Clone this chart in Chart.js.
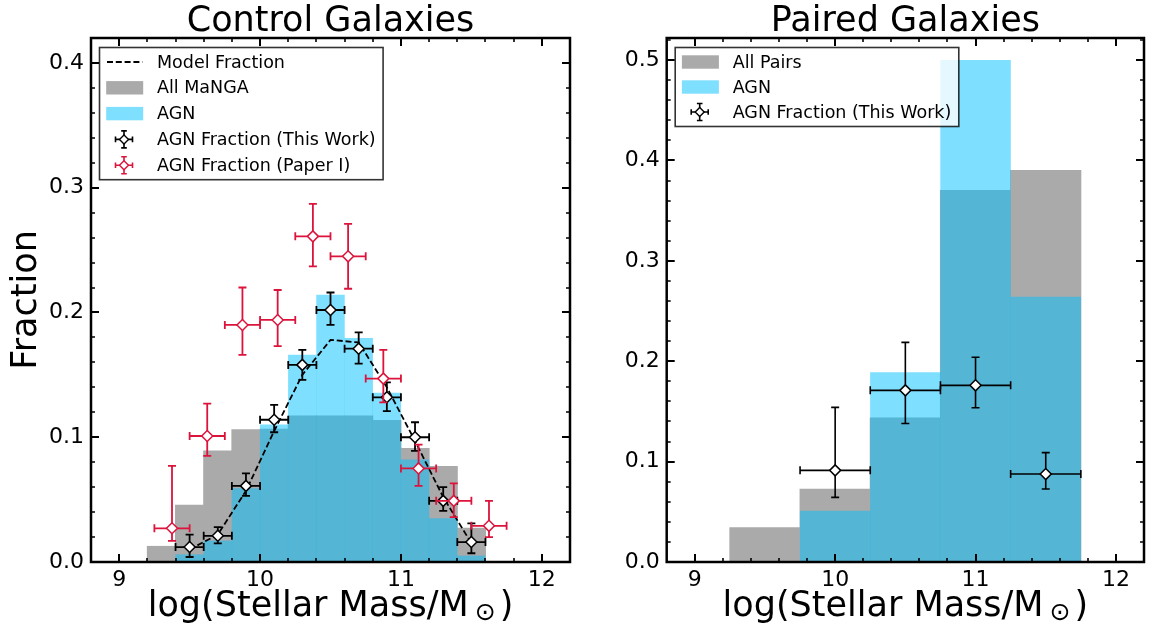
<!DOCTYPE html>
<html><head><meta charset="utf-8">
<script src="https://cdn.jsdelivr.net/npm/chart.js@4.4.0/dist/chart.umd.min.js"></script>
<style>
html,body{margin:0;padding:0;background:#fff;width:1151px;height:629px;overflow:hidden;}
.wrap{position:absolute;top:0;height:629px;}
#w1{left:0;width:580px;}
#w2{left:580px;width:571px;}
</style></head><body>
<div class="wrap" id="w1"><canvas id="c1"></canvas></div>
<div class="wrap" id="w2"><canvas id="c2"></canvas></div>
<script>
// ---------------- DATA ----------------
const controlBinCenters = [9.3, 9.5, 9.7, 9.9, 10.1, 10.3, 10.5, 10.7, 10.9, 11.1, 11.3, 11.5];
const controlAllManga   = [0.0125, 0.0455, 0.089, 0.106, 0.1065, 0.117, 0.117, 0.117, 0.1135, 0.091, 0.0765, 0.027];
const controlAgn        = [0, 0.006, 0.017, 0.059, 0.110, 0.166, 0.214, 0.1795, 0.1355, 0.082, 0.035, 0.005];

const modelMass     = [9.5, 9.7, 9.9, 10.1, 10.3, 10.5, 10.7, 10.9, 11.1, 11.3, 11.5];
const modelFraction = [0.010, 0.022, 0.057, 0.105, 0.150, 0.178, 0.176, 0.140, 0.097, 0.052, 0.015];

const thisWorkMass = [9.5, 9.7, 9.9, 10.1, 10.3, 10.5, 10.7, 10.9, 11.1, 11.3, 11.5];
const thisWorkFrac = [0.012, 0.021, 0.061, 0.114, 0.158, 0.202, 0.171, 0.132, 0.100, 0.049, 0.016];
const thisWorkLow  = [0.004, 0.015, 0.053, 0.104, 0.146, 0.190, 0.159, 0.121, 0.089, 0.041, 0.007];
const thisWorkHigh = [0.022, 0.028, 0.071, 0.126, 0.170, 0.216, 0.184, 0.144, 0.112, 0.060, 0.031];
const thisWorkXErr = [0.1, 0.1, 0.1, 0.1, 0.1, 0.1, 0.1, 0.1, 0.1, 0.1, 0.1];

const paperIMass = [9.375, 9.625, 9.875, 10.125, 10.375, 10.625, 10.875, 11.125, 11.375, 11.625];
const paperIFrac = [0.027, 0.101, 0.190, 0.194, 0.261, 0.245, 0.147, 0.075, 0.049, 0.029];
const paperILow  = [0.017, 0.085, 0.166, 0.173, 0.237, 0.219, 0.128, 0.061, 0.036, 0.020];
const paperIHigh = [0.077, 0.127, 0.220, 0.218, 0.287, 0.271, 0.170, 0.094, 0.063, 0.049];
const paperIXErr = [0.125, 0.125, 0.125, 0.125, 0.125, 0.125, 0.125, 0.125, 0.125, 0.125];

const pairedBinCenters = [9.5, 10.0, 10.5, 11.0, 11.5];
const pairedAll        = [0.034, 0.0725, 0.1435, 0.370, 0.390];
const pairedAgn        = [0, 0.051, 0.189, 0.500, 0.264];

const pairedMass = [10.0, 10.5, 11.0, 11.5];
const pairedFrac = [0.0913, 0.171, 0.176, 0.0876];
const pairedLow  = [0.0644, 0.138, 0.1537, 0.0727];
const pairedHigh = [0.154, 0.2188, 0.204, 0.109];
const pairedXErr = [0.25, 0.25, 0.25, 0.25];

const xTickValues = [9, 10, 11, 12];
const xTickLabels = ['9', '10', '11', '12'];
const controlYTicks  = [0, 0.1, 0.2, 0.3, 0.4];
const controlYLabels = ['0.0', '0.1', '0.2', '0.3', '0.4'];
const pairedYTicks   = [0, 0.1, 0.2, 0.3, 0.4, 0.5];
const pairedYLabels  = ['0.0', '0.1', '0.2', '0.3', '0.4', '0.5'];

const titles = ['Control Galaxies', 'Paired Galaxies'];
const xTitleMain = 'log(Stellar Mass/M';
const xTitleSub = '\u2299';
const xTitleEnd = ')';
const yTitle = 'Fraction';

// ---------------- STYLE / HELPERS ----------------
const F = "'DejaVu Sans', sans-serif";
const GRAY = '#aaaaaa';
const AGN_BLUE = 'rgba(0,191,255,0.5)';
const RED = '#dc143c';

const pts = (xs, ys) => xs.map((x, i) => ({x: x, y: ys[i]}));

function barDs(label, xs, ys, color, order, inflate) {
  return {type: 'bar', label, data: pts(xs, ys), backgroundColor: color, borderWidth: 0,
    inflateAmount: inflate,
    grouped: false, barPercentage: 1, categoryPercentage: 1, order, legendKind: 'patch'};
}
function errDs(label, xs, ys, lo, hi, xe, color, order, lw) {
  return {type: 'scatter', label, data: pts(xs, ys), errLow: lo, errHigh: hi, errX: xe,
    errLineWidth: lw, capHalf: 4, pointStyle: 'rectRot', pointRadius: 5.5, pointHoverRadius: 5.5,
    pointBorderWidth: 1.5, borderColor: color, pointBorderColor: color,
    backgroundColor: '#ffffff', pointBackgroundColor: '#ffffff', order, legendKind: 'err'};
}

function makeScales(yMax, yTicks, yLabels, yWidth) {
  return {
    x: {type: 'linear', min: 8.8, max: 12.2, offset: false,
      afterBuildTicks: s => { s.ticks = xTickValues.map(v => ({value: v})); },
      afterFit: s => { s.height = 67; },
      grid: {display: false, drawTicks: false, offset: false}, border: {display: false},
      ticks: {font: {family: F, size: 22}, color: '#000', padding: 5, maxRotation: 0, autoSkip: false,
        callback: v => { const i = xTickValues.indexOf(v); return i >= 0 ? xTickLabels[i] : ''; }}},
    y: {type: 'linear', min: 0, max: yMax,
      afterBuildTicks: s => { s.ticks = yTicks.map(v => ({value: v})); },
      afterFit: s => { s.width = yWidth; },
      grid: {display: false, drawTicks: false}, border: {display: false},
      ticks: {font: {family: F, size: 22}, color: '#000', padding: 7, autoSkip: false,
        callback: v => { const i = yTicks.indexOf(v); return i >= 0 ? yLabels[i] : ''; }}}
  };
}

const decorPlugin = {
  id: 'decor',
  beforeDatasetDraw(chart, args) {
    const ds = chart.data.datasets[args.index];
    if (!ds.errLow) return;
    const ctx = chart.ctx, xs = chart.scales.x, ys = chart.scales.y, cap = ds.capHalf;
    ctx.save();
    ctx.strokeStyle = ds.borderColor; ctx.lineWidth = ds.errLineWidth;
    ds.data.forEach((p, i) => {
      const px = xs.getPixelForValue(p.x), py = ys.getPixelForValue(p.y);
      const xl = xs.getPixelForValue(p.x - ds.errX[i]), xr = xs.getPixelForValue(p.x + ds.errX[i]);
      const yt = ys.getPixelForValue(ds.errHigh[i]), yb = ys.getPixelForValue(ds.errLow[i]);
      ctx.beginPath();
      ctx.moveTo(xl, py); ctx.lineTo(xr, py);
      ctx.moveTo(px, yt); ctx.lineTo(px, yb);
      ctx.moveTo(xl, py - cap); ctx.lineTo(xl, py + cap);
      ctx.moveTo(xr, py - cap); ctx.lineTo(xr, py + cap);
      ctx.moveTo(px - cap, yt); ctx.lineTo(px + cap, yt);
      ctx.moveTo(px - cap, yb); ctx.lineTo(px + cap, yb);
      ctx.stroke();
    });
    ctx.restore();
  },
  afterDatasetsDraw(chart) {
    const o = chart.options.plugins.decor;
    const ctx = chart.ctx, a = chart.chartArea, xs = chart.scales.x, ys = chart.scales.y;
    ctx.save();
    ctx.strokeStyle = '#000';
    // x ticks (bottom + top, inward)
    for (let k = Math.round(xs.min / 0.2) + 1; k * 0.2 < xs.max - 1e-6; k++) {
      const v = k * 0.2, major = Math.abs(v - Math.round(v)) < 1e-6;
      const p = Math.round(xs.getPixelForValue(v));
      const len = major ? 8 : 4;
      ctx.lineWidth = major ? 2 : 1.6;
      ctx.beginPath();
      ctx.moveTo(p, a.bottom); ctx.lineTo(p, a.bottom - len);
      ctx.moveTo(p, a.top); ctx.lineTo(p, a.top + len);
      ctx.stroke();
    }
    // y ticks (left + right, inward)
    for (let k = 1; k * 0.02 < ys.max - 1e-6; k++) {
      const v = k * 0.02, major = (k % 5) === 0;
      const p = Math.round(ys.getPixelForValue(v));
      const len = major ? 8 : 4;
      ctx.lineWidth = major ? 2 : 1.6;
      ctx.beginPath();
      ctx.moveTo(a.left, p); ctx.lineTo(a.left + len, p);
      ctx.moveTo(a.right, p); ctx.lineTo(a.right - len, p);
      ctx.stroke();
    }
    ctx.lineWidth = 2.5;
    ctx.strokeRect(a.left, a.top, a.right - a.left, a.bottom - a.top);

    // legend
    const ds = chart.data.datasets;
    const items = o.legendOrder.map(i => ds[i]);
    const bx = a.left + 8.5, by = a.top + 9.5;
    ctx.font = '17.5px ' + F;
    let maxW = 0;
    items.forEach(d => { maxW = Math.max(maxW, ctx.measureText(d.label).width); });
    const textX = bx + 57.5;
    const bw = (textX - bx) + maxW + 7.5;
    const bh = 29 + o.legendStep * (items.length - 1);
    ctx.fillStyle = 'rgba(255,255,255,0.8)';
    ctx.fillRect(bx, by, bw, bh);
    ctx.strokeStyle = 'rgba(0,0,0,0.8)'; ctx.lineWidth = 1.6;
    ctx.strokeRect(bx, by, bw, bh);
    items.forEach((d, j) => {
      const cy = by + 14.5 + j * o.legendStep;
      if (d.legendKind === 'line') {
        ctx.save(); ctx.strokeStyle = d.borderColor; ctx.lineWidth = d.borderWidth;
        ctx.setLineDash(d.borderDash);
        ctx.beginPath(); ctx.moveTo(bx + 7.5, cy); ctx.lineTo(bx + 43, cy); ctx.stroke();
        ctx.restore();
      } else if (d.legendKind === 'patch') {
        ctx.fillStyle = d.backgroundColor;
        ctx.fillRect(bx + 6.7, cy - 6.7, 37, 13.4);
      } else {
        const cx = bx + 24.5, h = 8.5, c = 2.8;
        ctx.save(); ctx.strokeStyle = d.borderColor; ctx.lineWidth = 1.6;
        ctx.beginPath();
        ctx.moveTo(cx - h, cy); ctx.lineTo(cx + h, cy);
        ctx.moveTo(cx, cy - h); ctx.lineTo(cx, cy + h);
        ctx.moveTo(cx - h, cy - c); ctx.lineTo(cx - h, cy + c);
        ctx.moveTo(cx + h, cy - c); ctx.lineTo(cx + h, cy + c);
        ctx.moveTo(cx - c, cy - h); ctx.lineTo(cx + c, cy - h);
        ctx.moveTo(cx - c, cy + h); ctx.lineTo(cx + c, cy + h);
        ctx.stroke();
        const r = 4.5;
        ctx.beginPath();
        ctx.moveTo(cx, cy - r); ctx.lineTo(cx + r, cy); ctx.lineTo(cx, cy + r); ctx.lineTo(cx - r, cy); ctx.closePath();
        ctx.fillStyle = '#fff'; ctx.fill(); ctx.lineWidth = 1.4; ctx.stroke();
        ctx.restore();
      }
      ctx.fillStyle = '#000'; ctx.textBaseline = 'middle'; ctx.textAlign = 'left';
      ctx.fillText(d.label, textX, cy + 1);
    });

    // titles
    const cx = (a.left + a.right) / 2;
    ctx.fillStyle = '#000'; ctx.textAlign = 'center'; ctx.textBaseline = 'alphabetic';
    ctx.font = '35px ' + F;
    ctx.fillText(o.title, cx, 31);
    // x axis title with subscript sun symbol
    ctx.font = '35px ' + F;
    const w1 = ctx.measureText(xTitleMain).width, w3 = ctx.measureText(xTitleEnd).width;
    ctx.font = '25px ' + F;
    const w2 = ctx.measureText(xTitleSub).width;
    const gap1 = 6, gap2 = 4;
    const tot = w1 + gap1 + w2 + gap2 + w3;
    let x0 = cx - tot / 2;
    ctx.textAlign = 'left';
    ctx.font = '35px ' + F; ctx.fillText(xTitleMain, x0, 616);
    ctx.font = '25px ' + F; ctx.fillText(xTitleSub, x0 + w1 + gap1, 620);
    ctx.font = '35px ' + F; ctx.fillText(xTitleEnd, x0 + w1 + gap1 + w2 + gap2, 616);
    if (o.yTitle) {
      ctx.save();
      ctx.translate(27, (a.top + a.bottom) / 2);
      ctx.rotate(-Math.PI / 2);
      ctx.textAlign = 'center'; ctx.textBaseline = 'middle';
      ctx.font = '35px ' + F;
      ctx.fillText(o.yTitle, 0, 0);
      ctx.restore();
    }
    ctx.restore();
  }
};

const common = {
  responsive: true, maintainAspectRatio: false, animation: false,
  events: [],
  plugins: {legend: {display: false}, title: {display: false}, tooltip: {enabled: false}}
};

// ---------------- LEFT: Control Galaxies ----------------
new Chart(document.getElementById('c1'), {
  type: 'bar',
  data: {datasets: [
    errDs('AGN Fraction (Paper I)', paperIMass, paperIFrac, paperILow, paperIHigh, paperIXErr, RED, 0, 1.8),
    errDs('AGN Fraction (This Work)', thisWorkMass, thisWorkFrac, thisWorkLow, thisWorkHigh, thisWorkXErr, '#000000', 1, 1.8),
    {type: 'line', label: 'Model Fraction', data: pts(modelMass, modelFraction), borderColor: '#000000',
      borderWidth: 1.8, borderDash: [6, 2.8], pointRadius: 0, fill: false, tension: 0, order: 2, legendKind: 'line'},
    barDs('AGN', controlBinCenters, controlAgn, AGN_BLUE, 3, 0.15),
    barDs('All MaNGA', controlBinCenters, controlAllManga, GRAY, 4, 0.5)
  ]},
  options: Object.assign({}, common, {
    layout: {padding: {left: 0, top: 38, right: 10, bottom: 0}},
    scales: makeScales(0.42, controlYTicks, controlYLabels, 91),
    plugins: Object.assign({}, common.plugins, {decor: {legendOrder: [2, 4, 3, 1, 0], legendStep: 25.8,
      title: titles[0], yTitle: yTitle}})
  }),
  plugins: [decorPlugin]
});

// ---------------- RIGHT: Paired Galaxies ----------------
new Chart(document.getElementById('c2'), {
  type: 'bar',
  data: {datasets: [
    errDs('AGN Fraction (This Work)', pairedMass, pairedFrac, pairedLow, pairedHigh, pairedXErr, '#000000', 0, 1.6),
    barDs('AGN', pairedBinCenters, pairedAgn, AGN_BLUE, 1, 0.15),
    barDs('All Pairs', pairedBinCenters, pairedAll, GRAY, 2, 0.5)
  ]},
  options: Object.assign({}, common, {
    layout: {padding: {left: 0, top: 38, right: 6, bottom: 0}},
    scales: makeScales(0.522, pairedYTicks, pairedYLabels, 86.7),
    plugins: Object.assign({}, common.plugins, {decor: {legendOrder: [2, 1, 0], legendStep: 25,
      title: titles[1], yTitle: null}})
  }),
  plugins: [decorPlugin]
});
</script>
</body></html>
